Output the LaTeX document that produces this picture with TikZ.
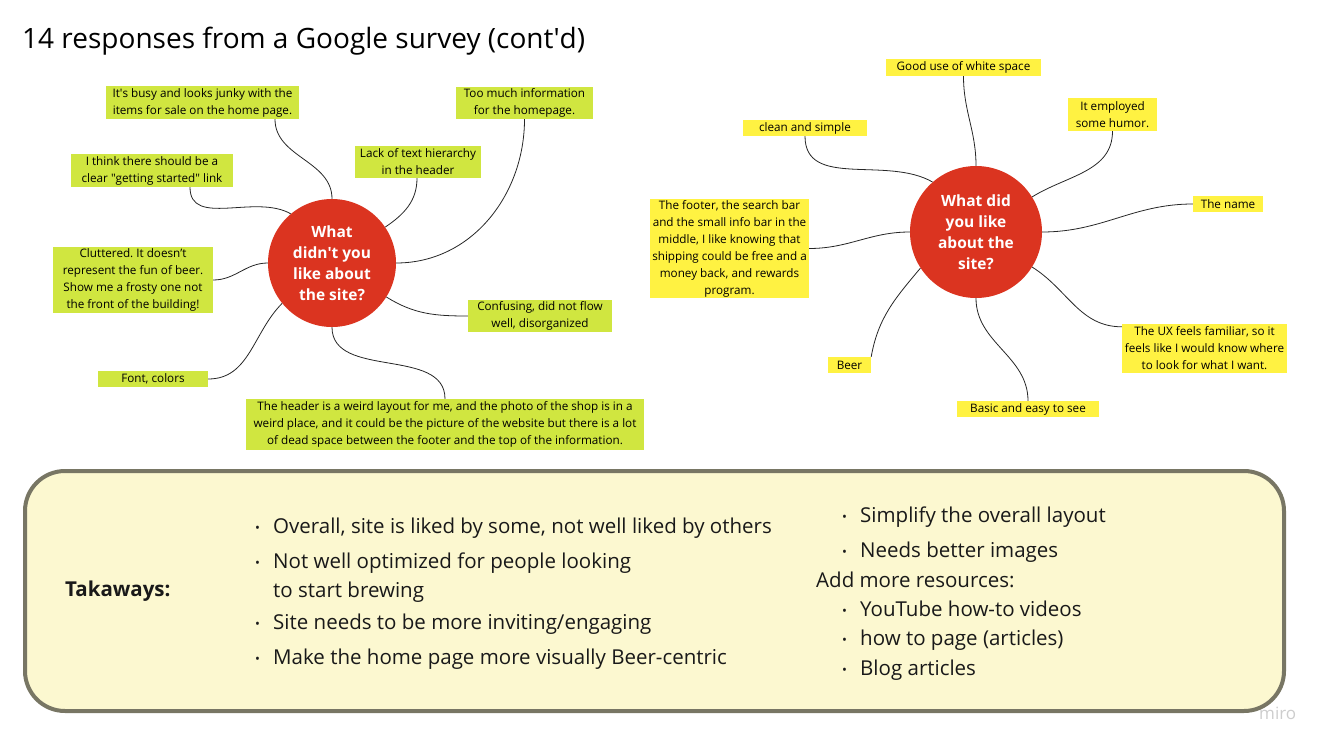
\documentclass[tikz,border=0pt]{standalone}
\usepackage{fontspec}
\setmainfont{Open Sans}
\frenchspacing
\definecolor{notegreen}{RGB}{208,230,64}
\definecolor{noteyellow}{RGB}{255,242,66}
\definecolor{hubred}{RGB}{219,52,32}
\definecolor{boxfill}{RGB}{252,248,208}
\definecolor{boxline}{RGB}{120,118,100}
\definecolor{wmgray}{RGB}{205,205,205}
\newcommand{\sq}{\textquotesingle}
\newcommand{\dq}{\textquotedbl}
\newcommand{\bul}{\makebox[18pt][l]{\fontsize{13}{13}\selectfont\raisebox{1pt}{•}}}
\begin{document}
\begin{tikzpicture}[x=1pt,y=-1pt,
  note/.style={inner sep=0pt, align=center, text=black, font=\fontsize{11.7}{17}\selectfont},
  gnote/.style={note, fill=notegreen},
  ynote/.style={note, fill=noteyellow},
  hub/.style={circle, fill=hubred, text=white, inner sep=0pt, align=center, font=\fontsize{15.5}{21}\selectfont\bfseries},
  conn/.style={draw=black!85, line width=0.8pt},
  take/.style={anchor=base west, font=\fontsize{20.5}{24}\selectfont, text=black!90, inner sep=0pt}
]
\useasboundingbox (0,0) rectangle (1333,749);

\node[anchor=west, inner sep=0pt, font=\fontsize{28}{32}\selectfont] (title) at (22,41) {14 responses from a Google survey (cont\sq d)};

% left hub
\node[hub, minimum size=128pt] (c1) at (332,263) {What\\didn\sq t you\\like about\\the site?};
\node[gnote, minimum width=193pt, minimum height=33pt] (busy) at (202.5,102.5) {It\sq s busy and looks junky with the\\items for sale on the home page.};
\node[gnote, minimum width=162pt, minimum height=33pt] (getting) at (152,170.5) {I think there should be a\\clear \dq getting started\dq{} link};
\node[gnote, minimum width=126pt, minimum height=32pt] (lack) at (418,162) {Lack of text hierarchy\\in the header};
\node[gnote, minimum width=137pt, minimum height=32pt] (toomuch) at (524.5,103) {Too much information\\for the homepage.};
\node[gnote, minimum width=160pt, minimum height=66pt] (clut) at (133,280) {Cluttered. It doesn’t\\represent the fun of beer.\\Show me a frosty one not\\the front of the building!};
\node[gnote, minimum width=144pt, minimum height=32pt] (conf) at (540,316) {Confusing, did not flow\\well, disorganized};
\node[gnote, minimum width=110pt, minimum height=16pt] (font) at (153,379) {Font, colors};
\node[gnote, minimum width=398pt, minimum height=51pt] (header) at (445,424.5) {The header is a weird layout for me, and the photo of the shop is in a\\weird place, and it could be the picture of the website but there is a lot\\of dead space between the footer and the top of the information.};

\draw[conn] ([xshift=72.5pt]busy.south) to[out=-90,in=90] (c1.90);
\draw[conn] ([xshift=38pt]getting.south) to[out=-90,in=150] (c1.130);
\draw[conn] ([xshift=-1pt]lack.south) to[out=-90,in=34] (c1.34);
\draw[conn] (toomuch.south) to[out=-90,in=0] (c1.0);
\draw[conn] (clut.east) to[out=0,in=180] (c1.180);
\draw[conn] (c1.-32) to[out=-32,in=180] (conf.west);
\draw[conn] (font.east) to[out=0,in=-135] (c1.-141);
\draw[conn] (c1.-90) to[out=-90,in=90] (header.north);

% right hub
\node[hub, minimum size=132pt] (c2) at (976,232) {What did\\you like\\about the\\site?};
\node[ynote, minimum width=155pt, minimum height=17pt] (goodw) at (963.5,67.5) {Good use of white space};
\node[ynote, minimum width=89pt, minimum height=33pt] (humor) at (1112.5,114.5) {It employed\\some humor.};
\node[ynote, minimum width=124pt, minimum height=16pt] (clean) at (805,128) {clean and simple};
\node[ynote, minimum width=70pt, minimum height=16pt] (name) at (1228,204) {The name};
\node[ynote, minimum width=159pt, minimum height=99pt] (footer) at (729.5,248.5) {The footer, the search bar\\and the small info bar in the\\middle, I like knowing that\\shipping could be free and a\\money back, and rewards\\program.};
\node[ynote, minimum width=43pt, minimum height=16pt] (beer) at (849.5,365) {Beer};
\node[ynote, minimum width=142pt, minimum height=16pt] (basic) at (1028,409) {Basic and easy to see};
\node[ynote, minimum width=165pt, minimum height=49pt] (ux) at (1204.5,348.5) {The UX feels familiar, so it\\feels like I would know where\\to look for what I want.};

\draw[conn] (goodw.south) to[out=-90,in=90] (c2.90);
\draw[conn] (humor.south) to[out=-90,in=32] (c2.32);
\draw[conn] (clean.south) to[out=-90,in=150] (c2.131);
\draw[conn] (c2.0) to[out=0,in=180] (name.west);
\draw[conn] (footer.east) to[out=0,in=180] (c2.180);
\draw[conn] (beer.north east) to[out=80,in=-130] (c2.-147);
\draw[conn] (c2.-90) to[out=-90,in=90] (basic.north);
\draw[conn] (c2.-32) to[out=-32,in=180] ([yshift=-3pt]ux.north west);

% takeaways
\node[draw=boxline, line width=4pt, fill=boxfill, rounded corners=40pt, minimum width=1259pt, minimum height=240pt, inner sep=0pt] (takebox) at (654.5,591) {};
\node[anchor=west, inner sep=0pt, font=\fontsize{20.5}{24}\selectfont\bfseries, text=black!90] (tk) at (65,591) {Takaways:};

\node[take] (l1) at (255,533) {\bul Overall, site is liked by some, not well liked by others};
\node[take] (l2) at (255,568) {\bul Not well optimized for people looking};
\node[take] (l2b) at (273,597) {to start brewing};
\node[take] (l3) at (255,629) {\bul Site needs to be more inviting/engaging};
\node[take] (l4) at (255,664) {\bul Make the home page more visually Beer-centric};

\node[take] (r1) at (842,522) {\bul Simplify the overall layout};
\node[take] (r2) at (842,557) {\bul Needs better images};
\node[take] (r3) at (816,587) {Add more resources:};
\node[take] (r4) at (842,616) {\bul YouTube how-to videos};
\node[take] (r5) at (842,645) {\bul how to page (articles)};
\node[take] (r6) at (842,675) {\bul Blog articles};

\node[anchor=base west, inner sep=0pt, font=\fontsize{17}{17}\selectfont, text=wmgray] (miro) at (1259,719) {miro};
\end{tikzpicture}
\end{document}
